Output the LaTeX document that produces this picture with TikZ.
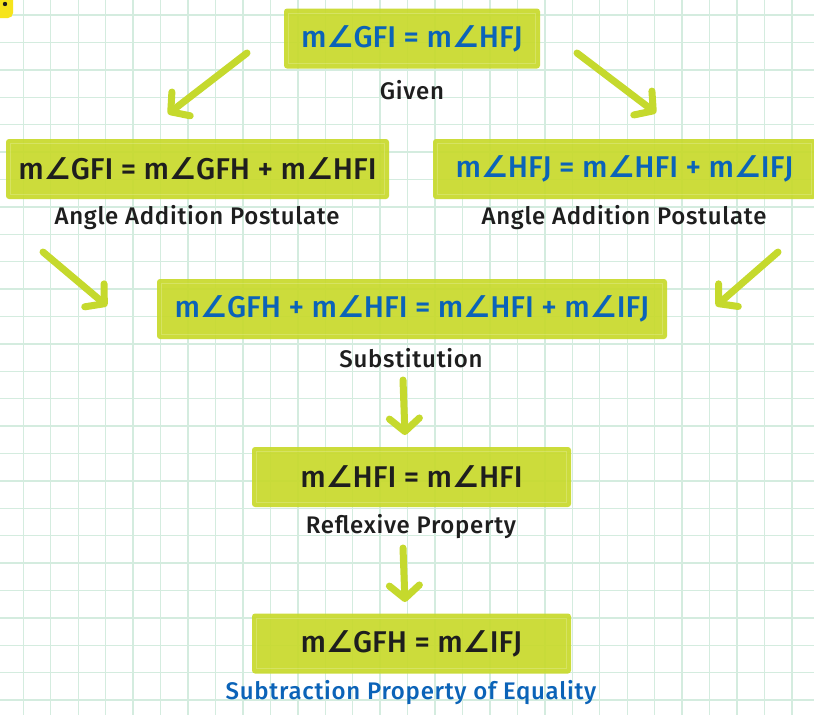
\documentclass[tikz,border=0pt]{standalone}
\usepackage{fontspec}
\setmainfont{Fira Sans}[BoldFont={Fira Sans Medium}]
\newfontfamily\symf{DejaVu Sans}
\usetikzlibrary{arrows.meta,calc}
\definecolor{boxc}{HTML}{C8DA2B}
\definecolor{gridc}{HTML}{D4ECDF}
\definecolor{eqblue}{HTML}{0B63B8}
\definecolor{ink}{HTML}{1E1E1E}
\definecolor{arrc}{HTML}{C5D92D}
\definecolor{stickc}{HTML}{F6E41C}
\newcommand{\ang}{{\symf ∠}}
\begin{document}
\begin{tikzpicture}[x=1pt,y=-1pt,
 eqbox/.style={fill=boxc, fill opacity=0.92, text opacity=1, rounded corners=3pt, minimum height=60pt, font=\fontsize{30}{34}\bfseries, inner sep=0pt},
 lbl/.style={font=\fontsize{24}{28}\bfseries\addfontfeature{LetterSpace=3}, text=ink, inner sep=0pt},
 arr/.style={draw=arrc, line width=7pt, line cap=round, -{Straight Barb[length=13pt,width=30pt,line cap=round,line join=round]}},
 inset/.style={draw=white, draw opacity=0.2, line width=0.8pt},
 gridline/.style={draw=gridc, line width=1.4pt}]
\useasboundingbox (0,0) rectangle (814,715);
\fill[white] (0,0) rectangle (814,715);
\foreach \i in {0,...,28} \draw[gridline] ({23.3+27.45*\i},0) -- ++(0,715);
\foreach \j in {0,...,25} \draw[gridline] (0,{15+27.4*\j}) -- ++(814,0);
% sticky corner
\fill[stickc, rounded corners=5pt] (-12,-12) rectangle (13,18);
\fill[ink] (5,4) circle (2.2);
% boxes
\node[eqbox, minimum width=256pt, text=eqblue] (given) at (412,38.5) {m\ang GFI = m\ang HFJ};
\node[eqbox, minimum width=383pt, text=ink] (aapL) at (197.5,169) {m\ang GFI = m\ang GFH + m\ang HFI};
\node[eqbox, minimum width=383pt, text=eqblue] (aapR) at (624.5,169) {m\ang HFJ = m\ang HFI + m\ang IFJ};
\node[eqbox, minimum width=510pt, text=eqblue] (subst) at (412,309) {m\ang GFH + m\ang HFI = m\ang HFI + m\ang IFJ};
\node[eqbox, minimum width=319pt, text=ink] (refl) at (411.5,477) {m\ang HFI = m\ang HFI};
\node[eqbox, minimum width=319pt, text=ink] (final) at (411.5,643.5) {m\ang GFH = m\ang IFJ};
\foreach \n in {given,aapL,aapR,subst,refl,final}
  \draw[inset] ($(\n.north west)+(5,5)$) rectangle ($(\n.south east)+(-5,-5)$);
% labels
\node[lbl] (lgiven) at (412,90) {Given};
\node[lbl] (laapL) at (197,218) {Angle Addition Postulate};
\node[lbl] (laapR) at (624,218) {Angle Addition Postulate};
\node[lbl] (lsubst) at (411,358) {Substitution};
\node[lbl] (lrefl) at (411,527) {Reflexive Property};
\node[lbl, text=eqblue] (lfinal) at (411,693) {Subtraction Property of Equality};
% arrow ends
\coordinate (a1s) at (247,53);  \coordinate (a1e) at (168,114);
\coordinate (a2s) at (577,53);  \coordinate (a2e) at (656,113);
\coordinate (a3s) at (43,252);  \coordinate (a3e) at (107,306);
\coordinate (a4s) at (778,252); \coordinate (a4e) at (716,306);
\coordinate (a5s) at (403,380); \coordinate (a5e) at (405,435);
\coordinate (a6s) at (403,548); \coordinate (a6e) at (405,602);
\foreach \k in {1,...,6} \draw[arr] (a\k s) -- (a\k e);
\end{tikzpicture}
\end{document}
